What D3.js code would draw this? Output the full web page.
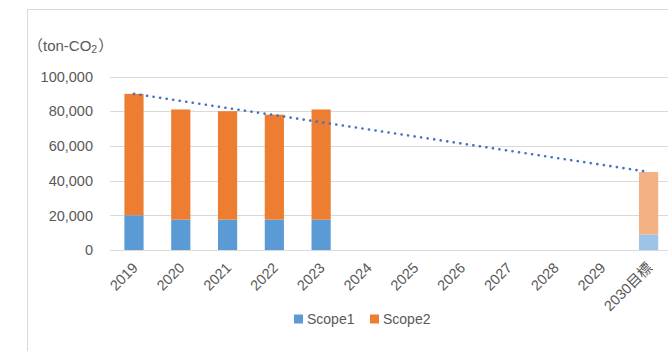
<!DOCTYPE html>
<html><head><meta charset="utf-8">
<script src="https://cdn.jsdelivr.net/npm/d3@7"></script>
<style>
html,body{margin:0;padding:0;background:#fff;}
svg{display:block;font-family:"Liberation Sans","Noto Sans CJK JP",sans-serif;}
</style></head>
<body>
<svg id="chart" width="668" height="351"></svg>
<script>
const categories = ["2019","2020","2021","2022","2023","2024","2025","2026","2027","2028","2029","2030目標"];
const scope1 = [20000, 17500, 17500, 17500, 17500, null, null, null, null, null, null, 9000];
const scope2 = [70000, 63500, 62500, 60500, 63500, null, null, null, null, null, null, 36000];
const targetFlags = [false,false,false,false,false,false,false,false,false,false,false,true];
const yTicks = [0, 20000, 40000, 60000, 80000, 100000];
const trendCategories = ["2019", "2030目標"];
const trendValues = [90000, 45000];
const seriesNames = ["Scope1", "Scope2"];

const svg = d3.select("#chart");

// chart border
svg.append("rect").attr("x", 27.5).attr("y", 9.5).attr("width", 700).attr("height", 400)
  .attr("fill", "none").attr("stroke", "#D9D9D9").attr("stroke-width", 1);

const x = d3.scaleBand().domain(categories).range([110.6, 672]).paddingInner(0.59).paddingOuter(0.295);
const y = d3.scaleLinear().domain([0, 100000]).range([250, 76.5]);

// gridlines
svg.append("g").selectAll("line").data(yTicks).join("line")
  .attr("x1", 110).attr("x2", 680)
  .attr("y1", d => Math.round(y(d)) + 0.5).attr("y2", d => Math.round(y(d)) + 0.5)
  .attr("stroke", "#D9D9D9").attr("stroke-width", 1);

// y labels
const fmt = d3.format(",");
svg.append("g").selectAll("text").data(yTicks).join("text")
  .attr("x", 93).attr("y", d => y(d)).attr("dy", "0.36em")
  .attr("text-anchor", "end").attr("fill", "#595959").attr("font-size", "14.5px")
  .text(d => fmt(d));

// unit title
const title = svg.append("text").attr("x", 28).attr("y", 51).attr("fill", "#595959").attr("font-size", "15px");
title.append("tspan").text("（ton-CO");
title.append("tspan").attr("font-size", "10.5px").attr("dy", "2").text("2");
title.append("tspan").attr("dy", "-2").attr("dx", "1").text("）");

// bars
const colors1 = d => d ? "#9DC3E6" : "#5B9BD5";
const colors2 = d => d ? "#F4B183" : "#ED7D31";
const barData = categories.map((c, i) => ({c, s1: scope1[i], s2: scope2[i], t: targetFlags[i]})).filter(d => d.s1 != null);
const bars = svg.append("g");
bars.selectAll("rect.s1").data(barData).join("rect").attr("class", "s1")
  .attr("x", d => x(d.c)).attr("width", x.bandwidth())
  .attr("y", d => y(d.s1)).attr("height", d => y(0) - y(d.s1))
  .attr("fill", d => colors1(d.t));
bars.selectAll("rect.s2").data(barData).join("rect").attr("class", "s2")
  .attr("x", d => x(d.c)).attr("width", x.bandwidth())
  .attr("y", d => y(d.s1 + d.s2)).attr("height", d => y(d.s1) - y(d.s1 + d.s2))
  .attr("fill", d => colors2(d.t));

// trend line
const line = d3.line().x(d => x(d.c) + x.bandwidth() / 2).y(d => y(d.v));
svg.append("path").datum(trendCategories.map((c, i) => ({c, v: trendValues[i]})))
  .attr("d", line).attr("fill", "none").attr("stroke", "#4472C4")
  .attr("stroke-width", 2.6).attr("stroke-linecap", "round").attr("stroke-dasharray", "0.1,6.5");

// x labels
svg.append("g").selectAll("text").data(categories).join("text")
  .attr("transform", d => `translate(${x(d) + x.bandwidth() / 2 + 1},${265}) rotate(-45)`)
  .attr("text-anchor", "end").attr("dy", "0.36em")
  .attr("fill", "#595959").attr("font-size", "14.5px").text(d => d);

// legend
const legend = svg.append("g");
const legendX = [294, 370];
const legendC = ["#5B9BD5", "#ED7D31"];
seriesNames.forEach((n, i) => {
  legend.append("rect").attr("x", legendX[i]).attr("y", 314.5).attr("width", 9).attr("height", 9).attr("fill", legendC[i]);
  legend.append("text").attr("x", legendX[i] + 13).attr("y", 319).attr("dy", "0.36em")
    .attr("fill", "#595959").attr("font-size", "14px").text(n);
});
</script>
</body></html>
